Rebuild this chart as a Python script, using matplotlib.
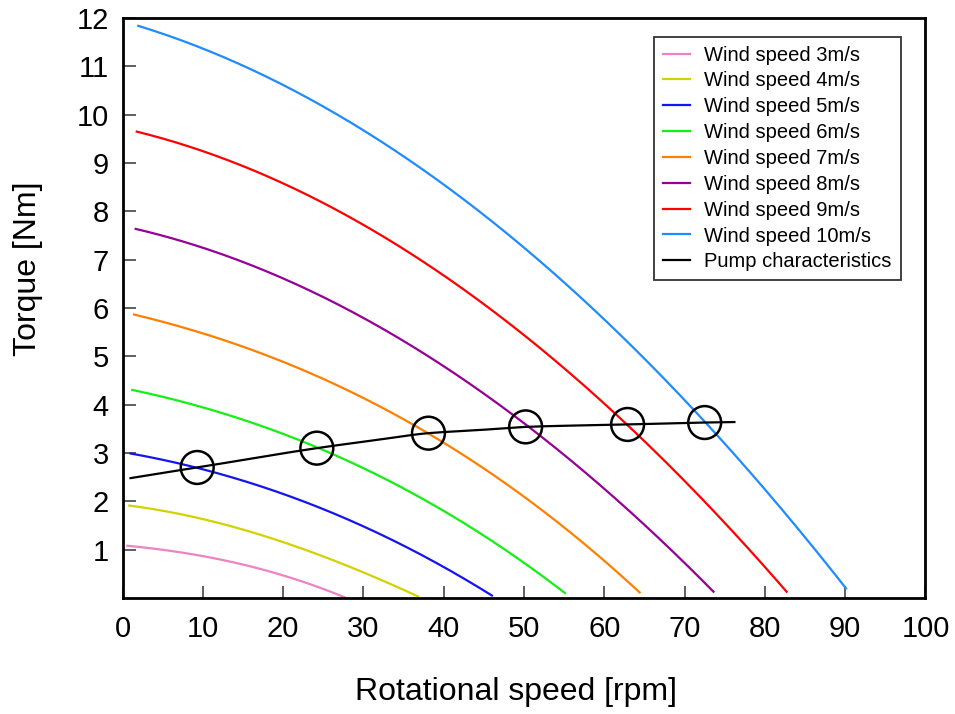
import numpy as np
import matplotlib
matplotlib.use("Agg")
import matplotlib.pyplot as plt

plt.rcParams['font.family'] = ['Liberation Sans', 'DejaVu Sans']

# Torque curves of the rotor for each wind speed: (rotational speed [rpm], torque [Nm])
ws3_rpm = [0.6, 3.4, 9.65, 15.9, 22.1, 27.7]
ws3_torque = [1.08, 1.03, 0.88, 0.65, 0.36, 0.01]

ws4_rpm = [0.85, 9.65, 15.9, 22.1, 28.3, 34.6, 36.8]
ws4_torque = [1.91, 1.65, 1.37, 1.03, 0.65, 0.20, 0.03]

ws5_rpm = [1.0, 9.65, 15.9, 22.1, 28.3, 34.6, 40.4, 46.0]
ws5_torque = [2.99, 2.68, 2.37, 2.03, 1.61, 1.13, 0.58, 0.06]

ws6_rpm = [1.22, 9.65, 15.9, 22.1, 32.1, 40.4, 48.7, 55.1]
ws6_torque = [4.29, 3.99, 3.65, 3.23, 2.51, 1.75, 0.92, 0.08]

ws7_rpm = [1.43, 8.0, 16.3, 24.6, 30.4, 38.1, 49.9, 57.0, 64.4]
ws7_torque = [5.86, 5.58, 5.13, 4.55, 4.10, 3.41, 2.10, 1.20, 0.11]

ws8_rpm = [1.64, 8.0, 16.3, 24.6, 32.1, 39.1, 46.2, 50.2, 59.5, 73.6]
ws8_torque = [7.63, 7.37, 6.86, 6.23, 5.61, 4.92, 4.11, 3.54, 2.34, 0.13]

ws9_rpm = [1.77, 8.0, 16.3, 24.6, 30.8, 39.1, 47.4, 55.7, 62.9, 71.9, 79.4, 82.7]
ws9_torque = [9.66, 9.34, 8.86, 8.20, 7.63, 6.75, 5.79, 4.72, 3.59, 2.00, 0.75, 0.17]

ws10_rpm = [1.97, 8.0, 16.3, 24.6, 30.8, 39.1, 44.9, 51.6, 63.2, 69.8, 72.5, 80.2, 90.1]
ws10_torque = [11.84, 11.51, 10.89, 10.20, 9.58, 8.68, 7.94, 7.06, 5.23, 4.11, 3.63, 2.23, 0.20]

# Load torque of the pump
pump_rpm = [1.0, 9.3, 24.2, 32.1, 38.1, 44.9, 50.2, 62.9, 72.5, 76.2]
pump_torque = [2.48, 2.70, 3.10, 3.28, 3.41, 3.48, 3.54, 3.59, 3.63, 3.64]

# Operating points (rotor torque = pump torque)
op_rpm = [9.3, 24.2, 38.1, 50.2, 62.9, 72.5]
op_torque = [2.70, 3.10, 3.41, 3.54, 3.59, 3.63]

series = [
    ("Wind speed 3m/s", ws3_rpm, ws3_torque, "#ee82c4"),
    ("Wind speed 4m/s", ws4_rpm, ws4_torque, "#d2d200"),
    ("Wind speed 5m/s", ws5_rpm, ws5_torque, "#1414f0"),
    ("Wind speed 6m/s", ws6_rpm, ws6_torque, "#14f014"),
    ("Wind speed 7m/s", ws7_rpm, ws7_torque, "#ff8000"),
    ("Wind speed 8m/s", ws8_rpm, ws8_torque, "#960096"),
    ("Wind speed 9m/s", ws9_rpm, ws9_torque, "#ff0000"),
    ("Wind speed 10m/s", ws10_rpm, ws10_torque, "#1e8cff"),
]

x_ticks = list(range(0, 101, 10))
y_ticks = list(range(1, 13))


def fitted(xs, ys, deg=3, n=200):
    """Smooth polynomial curve through the measured torque points."""
    coef = np.polyfit(xs, ys, deg)
    xf = np.linspace(xs[0], xs[-1], n)
    return xf, np.polyval(coef, xf)


def pchip(xs, ys, n=200):
    """Monotone cubic (Fritsch-Carlson) curve through the given points."""
    x = np.asarray(xs, float)
    y = np.asarray(ys, float)
    h = np.diff(x)
    d = np.diff(y) / h
    m = np.zeros_like(y)
    m[0], m[-1] = d[0], d[-1]
    for i in range(1, len(x) - 1):
        if d[i - 1] * d[i] > 0:
            w1 = 2 * h[i] + h[i - 1]
            w2 = h[i] + 2 * h[i - 1]
            m[i] = (w1 + w2) / (w1 / d[i - 1] + w2 / d[i])
    xf = np.linspace(x[0], x[-1], n)
    k = np.clip(np.searchsorted(x, xf) - 1, 0, len(x) - 2)
    t = (xf - x[k]) / h[k]
    h00 = 2 * t**3 - 3 * t**2 + 1
    h10 = t**3 - 2 * t**2 + t
    h01 = -2 * t**3 + 3 * t**2
    h11 = t**3 - t**2
    yf = h00 * y[k] + h10 * h[k] * m[k] + h01 * y[k + 1] + h11 * h[k] * m[k + 1]
    return xf, yf


fig = plt.figure(figsize=(9.55, 7.14), dpi=100)
ax = fig.add_axes([0.1283, 0.1625, 0.8408, 0.8123])

for label, xs, ys, color in series:
    ax.plot(*fitted(xs, ys), color=color, lw=1.6, label=label)
ax.plot(*pchip(pump_rpm, pump_torque), color="black", lw=1.6,
        label="Pump characteristics")
ax.scatter(op_rpm, op_torque, s=560, facecolors="none", edgecolors="black",
           linewidths=1.8, zorder=5)

ax.set_xlim(0, 100)
ax.set_ylim(0, 12)
ax.set_xticks(x_ticks)
ax.set_yticks(y_ticks)
ax.tick_params(direction="in", length=9, width=1.2, color="#444444",
               labelsize=21, top=False, right=False)
ax.tick_params(axis="x", pad=12)
ax.tick_params(axis="y", pad=10)
for sp in ax.spines.values():
    sp.set_linewidth(2.0)

ax.set_xlabel("Rotational speed [rpm]", fontsize=23)
ax.set_ylabel("Torque [Nm]", fontsize=23)
ax.xaxis.set_label_coords(0.49, -0.136)
ax.yaxis.set_label_coords(-0.118, 0.567)
ax.yaxis.label.set_verticalalignment("center")

leg = ax.legend(loc="upper right", bbox_to_anchor=(0.969, 0.968), fontsize=14.5,
                frameon=True, fancybox=False, handlelength=1.35,
                handletextpad=0.7, borderpad=0.45, borderaxespad=0,
                labelspacing=0.34)
leg.get_frame().set_edgecolor("black")
leg.get_frame().set_linewidth(1.3)

fig.savefig("out.png", dpi=100)
